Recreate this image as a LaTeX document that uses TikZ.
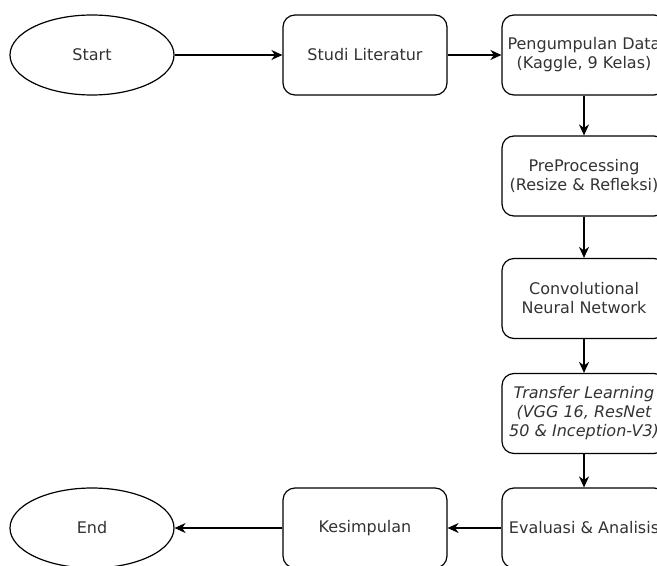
\documentclass[tikz,border=0pt]{standalone}
\usepackage{fontspec}
\setmainfont{DejaVu Sans}
\usetikzlibrary{shapes.geometric,arrows.meta}
\definecolor{txt}{HTML}{333333}
\tikzset{
  procbox/.style={draw=black, line width=1.2bp, rounded corners=12bp, minimum width=164bp, minimum height=80bp, inner sep=0pt, align=center, text=txt, font=\fontsize{16bp}{19bp}\selectfont},
  termin/.style={draw=black, line width=1.2bp, ellipse, minimum width=164bp, minimum height=80bp, inner sep=0pt, align=center, text=txt, font=\fontsize{16bp}{19bp}\selectfont},
  conn/.style={draw=black, line width=1.2bp, -{Stealth[length=11bp,width=10bp,inset=3.5bp]}}
}
\begin{document}
\begin{tikzpicture}[x=1bp,y=-1bp]
\useasboundingbox (0,0) rectangle (657,566);
\clip (0,0) rectangle (657,566);
\fill[white] (0,0) rectangle (657,566);
\node[termin] (start) at (92,55) {Start};
\node[procbox] (studi) at (365,55) {Studi Literatur};
\node[procbox] (peng) at (584,55) {Pengumpulan Data\\(Kaggle, 9 Kelas)};
\node[procbox] (pre) at (584,176) {PreProcessing\\(Resize \& Refleksi)};
\node[procbox] (cnn) at (584,298.5) {Convolutional\\Neural Network};
\node[procbox] (tl) at (584,413.5) {\itshape Transfer Learning\\\itshape (VGG 16, ResNet\\\itshape 50 \& Inception-V3)};
\node[procbox] (eval) at (584,528) {Evaluasi \& Analisis};
\node[procbox] (kes) at (365,528) {Kesimpulan};
\node[termin] (end) at (92,528) {End};
\draw[conn] (start) -- (studi);
\draw[conn] (studi) -- (peng);
\draw[conn] (peng) -- (pre);
\draw[conn] (pre) -- (cnn);
\draw[conn] (cnn) -- (tl);
\draw[conn] (tl) -- (eval);
\draw[conn] (eval) -- (kes);
\draw[conn] (kes) -- (end);
\end{tikzpicture}
\end{document}
